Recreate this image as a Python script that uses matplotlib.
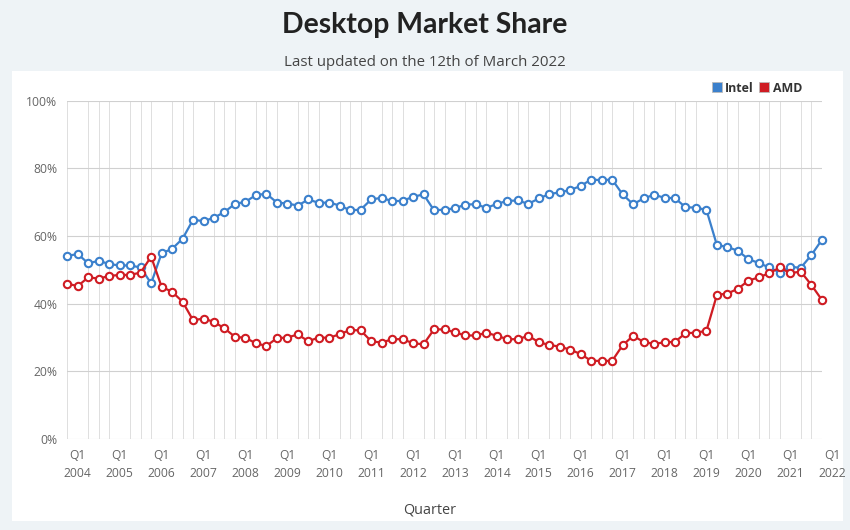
import matplotlib.pyplot as plt
import matplotlib.patches as mpatches

# quarterly share, first point is Q4 2003, last is Q4 2021
intel = [54.1, 54.7, 51.9, 52.7, 51.7, 51.3, 51.3, 50.7, 46.0, 54.9, 56.2, 59.2, 64.8, 64.4, 65.4, 67.1, 69.5, 70.1,
         72.1, 72.5, 69.9, 69.6, 69.0, 70.8, 69.8, 69.9, 69.0, 67.6, 67.8, 70.8, 71.3, 70.3, 70.4, 71.6, 72.3, 67.6,
         67.8, 68.2, 69.3, 69.4, 68.3, 69.5, 70.4, 70.5, 69.5, 71.1, 72.4, 72.9, 73.6, 74.8, 76.7, 76.5, 76.7, 72.3,
         69.4, 71.1, 72.2, 71.3, 71.2, 68.5, 68.4, 67.7, 57.3, 56.8, 55.6, 53.2, 52.0, 50.7, 49.2, 50.9, 50.6, 54.3, 58.8]
amd = [45.9, 45.2, 47.8, 47.4, 48.2, 48.5, 48.5, 49.2, 53.9, 45.0, 43.5, 40.6, 35.1, 35.6, 34.6, 32.7, 30.2, 29.9,
       28.3, 27.5, 29.8, 30.0, 30.9, 28.9, 30.0, 29.9, 31.0, 32.2, 32.1, 28.9, 28.5, 29.5, 29.5, 28.3, 28.0, 32.4,
       32.4, 31.5, 30.6, 30.6, 31.4, 30.5, 29.5, 29.5, 30.5, 28.6, 27.8, 27.3, 26.4, 25.1, 23.1, 23.1, 23.1, 27.7,
       30.5, 28.7, 28.1, 28.6, 28.7, 31.3, 31.4, 32.0, 42.6, 43.0, 44.4, 46.8, 47.8, 49.0, 50.7, 49.0, 49.5, 45.6, 41.2]
years = list(range(2004, 2023))
yticks = [0, 20, 40, 60, 80, 100]

BLUE = '#3b80cc'
RED = '#cf1c23'
BG = '#eef3f6'

fig = plt.figure(figsize=(8.5, 5.3), dpi=100, facecolor=BG)
panel = mpatches.Rectangle((12/850, 1-521/530), (843-12)/850, (521-71)/530,
                           transform=fig.transFigure, facecolor='white', edgecolor='none', zorder=-10)
fig.add_artist(panel)

ax = fig.add_axes([67.3/850, (530-439)/530, (821.7-67.3)/850, (439-100.7)/530])
ax.set_facecolor('white')
x = list(range(len(intel)))
ax.plot(x, intel, color=BLUE, lw=1.6, marker='o', ms=5.3, mfc='white', mec=BLUE, mew=1.5, zorder=3, clip_on=False)
ax.plot(x, amd, color=RED, lw=1.6, marker='o', ms=5.3, mfc='white', mec=RED, mew=1.5, zorder=3, clip_on=False)

ax.set_xlim(0, len(intel) - 1)
ax.set_ylim(0, 100)
for s in ax.spines.values():
    s.set_visible(False)

# vertical gridline for every quarter
ax.set_xticks(x, minor=True)
ax.grid(True, which='minor', axis='x', color='#dedede', lw=0.7)
ax.set_yticks(yticks)
ax.set_yticklabels([f"{v}%" for v in yticks])
ax.grid(True, which='major', axis='y', color='#d0d0d0', lw=0.8)

q1_pos = [1 + 4*i for i in range(len(years)) if 1 + 4*i < len(intel)]
ax.set_xticks(q1_pos)
ax.set_xticklabels([f"Q1\n{years[i]}" for i in range(len(q1_pos))], linespacing=1.55)
ax.tick_params(axis='both', which='both', length=0, colors='#666666', labelsize=8.7)
ax.tick_params(axis='x', pad=7)
ax.tick_params(axis='y', pad=7)
for lab in ax.get_xticklabels() + ax.get_yticklabels():
    lab.set_fontfamily('Open Sans')

# Q1 of the last year sits past the last point
t = ax.annotate(f"Q1\n{years[-1]}", xy=(len(intel), 0), xycoords=ax.get_xaxis_transform(),
                xytext=(0, -7), textcoords='offset points', ha='center', va='top',
                fontsize=8.7, color='#666666', family='Open Sans', linespacing=1.55, annotation_clip=False)

fig.text(0.5, 1-33/530, "Desktop Market Share", ha='center', va='baseline',
         fontsize=20.4, fontweight='bold', family='Lato', color='#222222')
fig.text(0.5, 1-66/530, "Last updated on the 12th of March 2022", ha='center', va='baseline',
         fontsize=10.8, family='Open Sans', color='#444444')
fig.text(430/850, 1-513/530, "Quarter", ha='center', va='baseline',
         fontsize=10.4, family='Open Sans', color='#444444')

handles = [mpatches.Patch(facecolor=BLUE, edgecolor='#bbbbbb', lw=0.6, label='Intel'),
           mpatches.Patch(facecolor=RED, edgecolor='#bbbbbb', lw=0.6, label='AMD')]
leg = fig.legend(handles=handles, ncol=2, frameon=False, loc='center right',
                 bbox_to_anchor=(802/850, 1-88/530), handlelength=0.8, handleheight=0.8,
                 handletextpad=0.3, columnspacing=0.4, borderpad=0, borderaxespad=0,
                 prop={'family': 'Open Sans', 'weight': 'bold', 'size': 8.9})
for txt in leg.get_texts():
    txt.set_color('#333333')

fig.savefig('out.png', dpi=100, facecolor=BG)
